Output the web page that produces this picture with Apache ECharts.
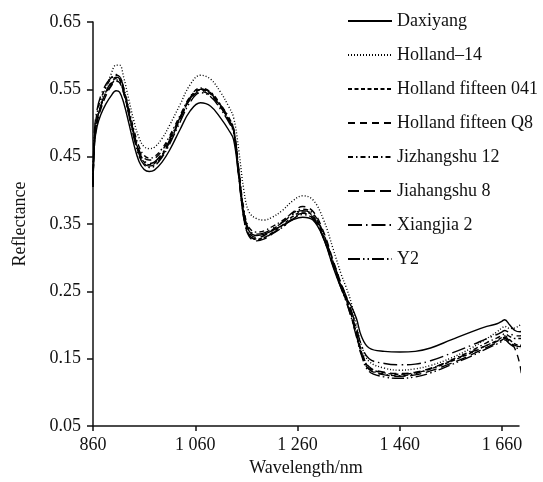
<!DOCTYPE html>
<html><head><meta charset="utf-8">
<script src="https://cdn.jsdelivr.net/npm/echarts@6/dist/echarts.min.js"></script>
<style>html,body{margin:0;padding:0;background:#fff}#c{width:543px;height:482px}</style>
</head><body><div id="c"></div>
<script>
const wavelengths = [860,863,868,875,885,895,905,912,920,930,940,950,960,970,980,995,1010,1030,1050,1070,1090,1110,1125,1135,1145,1155,1165,1180,1195,1210,1230,1250,1270,1290,1310,1330,1345,1355,1365,1375,1385,1400,1430,1460,1490,1520,1560,1600,1630,1650,1660,1665,1675,1685,1695,1700];
const seriesNames = ["Daxiyang","Holland\u201314","Holland fifteen 041","Holland fifteen Q8","Jizhangshu 12","Jiahangshu 8","Xiangjia 2","Y2"];
const daxiyang = [.410,.470,.495,.512,.528,.540,.548,.546,.530,.500,.468,.443,.431,.428,.430,.442,.460,.490,.518,.530,.525,.507,.490,.475,.420,.365,.340,.333,.335,.340,.348,.356,.360,.356,.330,.285,.255,.240,.228,.210,.183,.166,.161,.160,.161,.166,.178,.190,.198,.202,.206,.208,.200,.192,.190,.195];
const holland14 = [.415,.480,.505,.528,.552,.572,.586,.586,.568,.535,.503,.478,.465,.462,.464,.477,.497,.527,.557,.571,.565,.545,.525,.508,.460,.400,.368,.358,.356,.360,.370,.384,.392,.386,.358,.312,.276,.256,.233,.200,.170,.146,.136,.133,.135,.140,.151,.166,.180,.190,.196,.198,.195,.196,.200,.205];
const holland041 = [.405,.475,.505,.525,.545,.558,.566,.564,.547,.515,.482,.455,.442,.438,.440,.453,.473,.506,.536,.549,.543,.524,.505,.488,.425,.362,.335,.327,.330,.337,.348,.361,.368,.362,.333,.290,.258,.238,.215,.188,.160,.137,.129,.127,.129,.135,.146,.159,.170,.177,.182,.184,.178,.172,.170,.170];
const hollandQ8 = [.410,.470,.500,.520,.540,.554,.562,.560,.544,.515,.485,.460,.448,.445,.447,.459,.478,.508,.535,.547,.541,.523,.505,.489,.430,.368,.338,.330,.333,.341,.353,.367,.376,.369,.340,.295,.262,.242,.218,.190,.162,.138,.130,.128,.130,.136,.147,.160,.170,.176,.180,.182,.176,.165,.140,.113];
const jizhangshu12 = [.412,.485,.515,.535,.553,.565,.571,.569,.552,.522,.490,.465,.452,.448,.450,.462,.481,.511,.539,.552,.546,.527,.509,.492,.432,.372,.345,.338,.340,.346,.355,.366,.372,.366,.337,.293,.260,.240,.216,.188,.158,.135,.127,.125,.128,.135,.148,.162,.174,.181,.185,.187,.183,.180,.180,.180];
const jiahangshu8 = [.405,.475,.505,.525,.546,.560,.568,.566,.548,.515,.481,.454,.440,.436,.438,.451,.472,.505,.536,.550,.544,.524,.505,.487,.422,.358,.332,.325,.328,.335,.345,.358,.366,.360,.331,.288,.256,.236,.212,.185,.157,.134,.126,.124,.126,.132,.143,.156,.167,.174,.178,.180,.175,.170,.168,.170];
const xiangjia2 = [.415,.490,.520,.540,.557,.567,.572,.570,.552,.519,.485,.458,.444,.440,.442,.455,.475,.508,.538,.551,.545,.526,.508,.491,.430,.368,.342,.335,.337,.343,.352,.364,.370,.364,.336,.293,.262,.243,.222,.196,.170,.150,.143,.141,.142,.147,.158,.170,.180,.186,.190,.192,.188,.184,.184,.185];
const y2 = [.408,.478,.505,.524,.543,.556,.564,.562,.545,.512,.478,.451,.438,.434,.436,.449,.469,.501,.531,.545,.539,.520,.502,.485,.420,.358,.334,.328,.330,.336,.345,.357,.364,.358,.330,.287,.255,.235,.211,.183,.155,.131,.123,.121,.123,.129,.141,.154,.165,.172,.176,.178,.172,.167,.165,.165];
const xTicks = [860,1060,1260,1460,1660];
const yTicks = [0.05,0.15,0.25,0.35,0.45,0.55,0.65];

const allValues = [daxiyang,holland14,holland041,hollandQ8,jizhangshu12,jiahangshu8,xiangjia2,y2];
const dashTypes = ['solid',[1,2],[4,2.5],[7,5],[5,3,1.5,3],[11,5],[14,4,1.5,4],[12,3,1.5,3,1.5,3]];
const font = '"Liberation Serif","Times New Roman",serif';

const chart = echarts.init(document.getElementById('c'), null, {renderer:'canvas'});
chart.setOption({
  animation:false,
  backgroundColor:'#fff',
  grid:{left:93,right:24,top:22,bottom:52,containLabel:false},
  legend:{
    orient:'vertical', left:342, top:7,
    itemWidth:44, itemHeight:14, itemGap:16,
    itemStyle:{opacity:0},
    textStyle:{fontFamily:font,fontSize:18,color:'#111',lineHeight:18},
    data:seriesNames
  },
  xAxis:{
    type:'value', min:860, max:1693,
    name:'Wavelength/nm', nameLocation:'middle', nameGap:25,
    nameTextStyle:{fontFamily:font,fontSize:18,color:'#111'},
    axisLine:{lineStyle:{color:'#111',width:1.5}},
    axisTick:{show:true,length:5,customValues:xTicks,lineStyle:{color:'#111',width:1.5}},
    axisLabel:{customValues:xTicks,margin:10,fontFamily:font,fontSize:18,color:'#111',
      formatter:v=>{const s=String(Math.round(v));return s.length>3?s[0]+' '+s.slice(1):s;}},
    splitLine:{show:false}
  },
  yAxis:{
    type:'value', min:0.05, max:0.65,
    name:'Reflectance', nameLocation:'middle', nameGap:64,
    nameTextStyle:{fontFamily:font,fontSize:18,color:'#111'},
    axisLine:{show:true,lineStyle:{color:'#111',width:1.5}},
    axisTick:{show:true,length:6,customValues:yTicks,lineStyle:{color:'#111',width:1.5}},
    axisLabel:{customValues:yTicks,margin:12,fontFamily:font,fontSize:18,color:'#111',
      formatter:v=>v.toFixed(2)},
    splitLine:{show:false}
  },
  series: seriesNames.map((n,i)=>({
    name:n, type:'line', smooth:0.4, symbol:'none', showSymbol:false, clip:false,
    lineStyle:{color:'#000',width:1.4,type:dashTypes[i]},
    itemStyle:{color:'#000'},
    data: wavelengths.map((w,j)=>[w,allValues[i][j]])
  }))
});
</script></body></html>
